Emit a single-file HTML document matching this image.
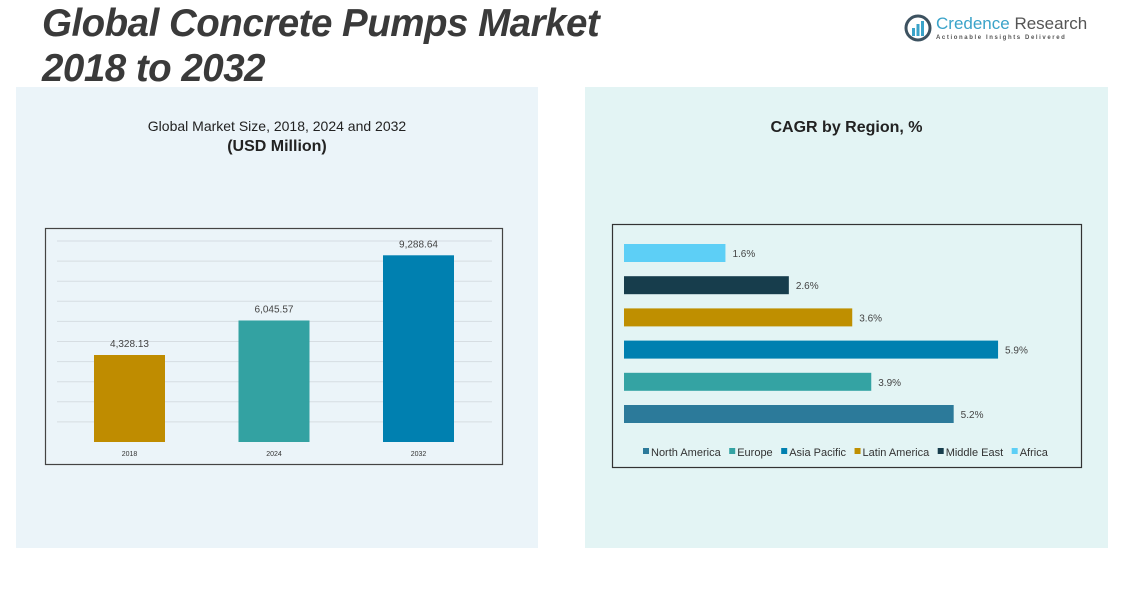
<!DOCTYPE html>
<html><head><meta charset="utf-8">
<style>
body{margin:0;width:1130px;height:601px;background:#fff;position:relative;overflow:hidden;font-family:"Liberation Sans",sans-serif;}
.abs{position:absolute;}
</style></head>
<body>
<div class="abs" style="left:42px;top:1px;font-size:38.5px;font-weight:bold;font-style:italic;color:#3a3a3a;line-height:45px;letter-spacing:-0.5px;">Global Concrete Pumps Market<br>2018 to 2032</div>
<div class="abs" style="left:904px;top:14px;width:180px;height:30px;">
  <svg width="28" height="28" style="position:absolute;left:0;top:0"><circle cx="14" cy="14" r="12" fill="none" stroke="#3d5260" stroke-width="3"/><rect x="8" y="14" width="3" height="8" fill="#3aa3c9"/><rect x="12.5" y="10" width="3" height="12" fill="#3aa3c9"/><rect x="17" y="7" width="3" height="15" fill="#3aa3c9"/></svg>
  <div style="position:absolute;left:32px;top:0;font-size:17px;color:#3aa3c9;white-space:nowrap;">Credence <span style="color:#555">Research</span></div>
  <div style="position:absolute;left:32px;top:21px;font-size:6px;letter-spacing:1.6px;color:#555;white-space:nowrap;font-weight:bold;">Actionable Insights Delivered</div>
</div>
<div class="abs" style="left:16px;top:87px;width:522px;height:461px;background:#ebf4f9;"></div>
<div class="abs" style="left:585px;top:87px;width:523px;height:461px;background:#e3f4f4;"></div>
<div class="abs" style="left:16px;width:522px;top:118px;text-align:center;font-size:14px;color:#222;">Global Market Size, 2018, 2024 and 2032</div>
<div class="abs" style="left:16px;width:522px;top:138px;text-align:center;font-size:16px;font-weight:bold;color:#222;">(USD Million)</div>
<div class="abs" style="left:585px;width:523px;top:119px;text-align:center;font-size:16px;font-weight:bold;color:#222;">CAGR by Region, %</div>
<svg id="s" class="abs" style="left:0;top:0" width="1130" height="601"></svg>
<script>
const years=["2018","2024","2032"];
const sizes=[4328.13,6045.57,9288.64];
const sizeLabels=["4,328.13","6,045.57","9,288.64"];
const sizeColors=["#bf8c00","#33a2a2","#0080b0"];
const regions=["Africa","Middle East","Latin America","Asia Pacific","Europe","North America"];
const cagr=[1.6,2.6,3.6,5.9,3.9,5.2];
const regionColors=["#5dcff6","#173d4c","#bf8f00","#0080b0","#34a3a3","#2c7a9a"];
const legendOrder=["North America","Europe","Asia Pacific","Latin America","Middle East","Africa"];
const NS="http://www.w3.org/2000/svg";
const s=document.getElementById('s');
function mk(t,a,txt){const e=document.createElementNS(NS,t);for(const k in a)e.setAttribute(k,a[k]);if(txt!=null)e.textContent=txt;s.appendChild(e);return e;}
let e=mk('rect',{x:45.5,y:228.5,width:457,height:236,fill:'none',stroke:'#444','stroke-width':1.2});

const base=442,ppu=0.0201;
const yS=v=>base-v*ppu;
for(let g=1000;g<=10000;g+=1000){e=mk('line',{x1:57,x2:492,y1:yS(g),y2:yS(g),stroke:'#d6dde2','stroke-width':1});
}
const xS=i=>94+i*144.5;
years.forEach((y,i)=>{
 e=mk('rect',{x:xS(i),y:yS(sizes[i]),width:71,height:sizes[i]*ppu,fill:sizeColors[i]});
 
 e=mk('text',{x:xS(i)+35.5,y:yS(sizes[i])-8,'text-anchor':'middle','font-size':10,fill:'#444'},sizeLabels[i]);
 
 e=mk('text',{x:xS(i)+35.5,y:456,'text-anchor':'middle','font-size':7,fill:'#333'},y);
 
});
e=mk('rect',{x:612.5,y:224.5,width:469,height:243,fill:'none',stroke:'#333','stroke-width':1.2});

const x0=624,ppp=63.4;
regions.forEach((r,i)=>{
 const y=244+i*32.2;
 e=mk('rect',{x:x0,y:y,width:cagr[i]*ppp,height:18,fill:regionColors[i]});
 
 e=mk('text',{x:x0+cagr[i]*ppp+7,y:y+13,'font-size':10,fill:'#444'},cagr[i]+'%');
 
});
let lx=643;
legendOrder.forEach(r=>{
 const i=regions.indexOf(r);
 e=mk('rect',{x:lx,y:448,width:6,height:6,fill:regionColors[i]});
 
 const t=mk('text',{x:lx+8,y:456,'font-size':11,fill:'#333'},r);
 
 lx+=8+t.getComputedTextLength()+8.5;
});
</script>
</body></html>
